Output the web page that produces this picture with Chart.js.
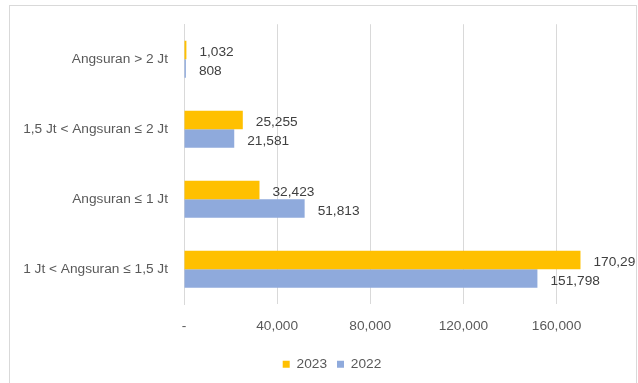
<!DOCTYPE html>
<html>
<head>
<meta charset="utf-8">
<script src="https://cdn.jsdelivr.net/npm/chart.js@4.4.1/dist/chart.umd.min.js"></script>
<style>
  html, body { margin: 0; padding: 0; background: #ffffff; overflow: hidden; }
  canvas { display: block; }
</style>
</head>
<body>
<canvas id="c" width="638" height="383"></canvas>
<script>
const categories = ["Angsuran > 2 Jt", "1,5 Jt < Angsuran \u2264 2 Jt", "Angsuran \u2264 1 Jt", "1 Jt < Angsuran \u2264 1,5 Jt"];
const seriesNames = ["2023", "2022"];
const values2023 = [1032, 25255, 32423, 170296];
const values2022 = [808, 21581, 51813, 151798];
const tickValues = [0, 40000, 80000, 120000, 160000];

const FONT = "'Liberation Sans', Arial, sans-serif";
const FSIZE = 13.7;
const TEXT = '#595959';

const framePlugin = {
  id: 'frame',
  beforeDraw(chart) {
    const ctx = chart.ctx;
    ctx.save();
    ctx.fillStyle = '#ffffff';
    ctx.fillRect(0, 0, chart.width, chart.height);
    ctx.strokeStyle = '#D9D9D9';
    ctx.lineWidth = 1;
    ctx.strokeRect(9.5, 5.5, 627, 400);
    ctx.restore();
  }
};

const legendShift = {
  id: 'legendShift',
  afterLayout(chart) {
    if (chart.legend) {
      chart.legend.left += 8;
      chart.legend.right += 8;
    }
  }
};

const valueLabels = {
  id: 'valueLabels',
  afterDatasetsDraw(chart) {
    const ctx = chart.ctx;
    ctx.save();
    ctx.beginPath();
    ctx.rect(0, 0, 636, chart.height);
    ctx.clip();
    ctx.font = FSIZE + 'px ' + FONT;
    ctx.fillStyle = '#404040';
    ctx.textAlign = 'left';
    ctx.textBaseline = 'middle';
    chart.data.datasets.forEach((ds, di) => {
      const meta = chart.getDatasetMeta(di);
      meta.data.forEach((el, i) => {
        ctx.fillText(ds.data[i].toLocaleString('en-US'), el.x + 13, el.y + 2.5);
      });
    });
    ctx.restore();
  }
};

new Chart(document.getElementById('c'), {
  type: 'bar',
  data: {
    labels: categories,
    datasets: [
      { label: seriesNames[0], data: values2023, backgroundColor: '#FFC000', borderWidth: 0 },
      { label: seriesNames[1], data: values2022, backgroundColor: '#8FAADC', borderWidth: 0 }
    ]
  },
  options: {
    indexAxis: 'y',
    responsive: false,
    animation: false,
    categoryPercentage: 0.53,
    barPercentage: 1.0,
    layout: { padding: { left: 10, right: 0, top: 22, bottom: 2 } },
    scales: {
      x: {
        min: 0,
        max: 195000,
        afterBuildTicks(axis) {
          axis.ticks = tickValues.map(v => ({ value: v }));
        },
        afterFit(scale) { scale.height = 43; },
        ticks: {
          maxRotation: 0,
          autoSkip: false,
          padding: 14,
          color: TEXT,
          font: { family: FONT, size: FSIZE },
          callback: (v) => (v === 0 ? '-' : Number(v).toLocaleString('en-US'))
        },
        grid: { color: '#D9D9D9', drawTicks: false },
        border: { display: false }
      },
      y: {
        afterFit(scale) { scale.width = 174; },
        ticks: {
          padding: 16,
          color: TEXT,
          font: { family: FONT, size: FSIZE }
        },
        grid: { display: false, drawTicks: false },
        border: { display: true, color: '#D9D9D9' }
      }
    },
    plugins: {
      legend: {
        position: 'bottom',
        labels: {
          boxWidth: 7,
          boxHeight: 7,
          padding: 10,
          color: TEXT,
          font: { family: FONT, size: FSIZE }
        }
      },
      tooltip: { enabled: false },
      title: { display: false }
    }
  },
  plugins: [framePlugin, legendShift, valueLabels]
});
</script>
</body>
</html>
